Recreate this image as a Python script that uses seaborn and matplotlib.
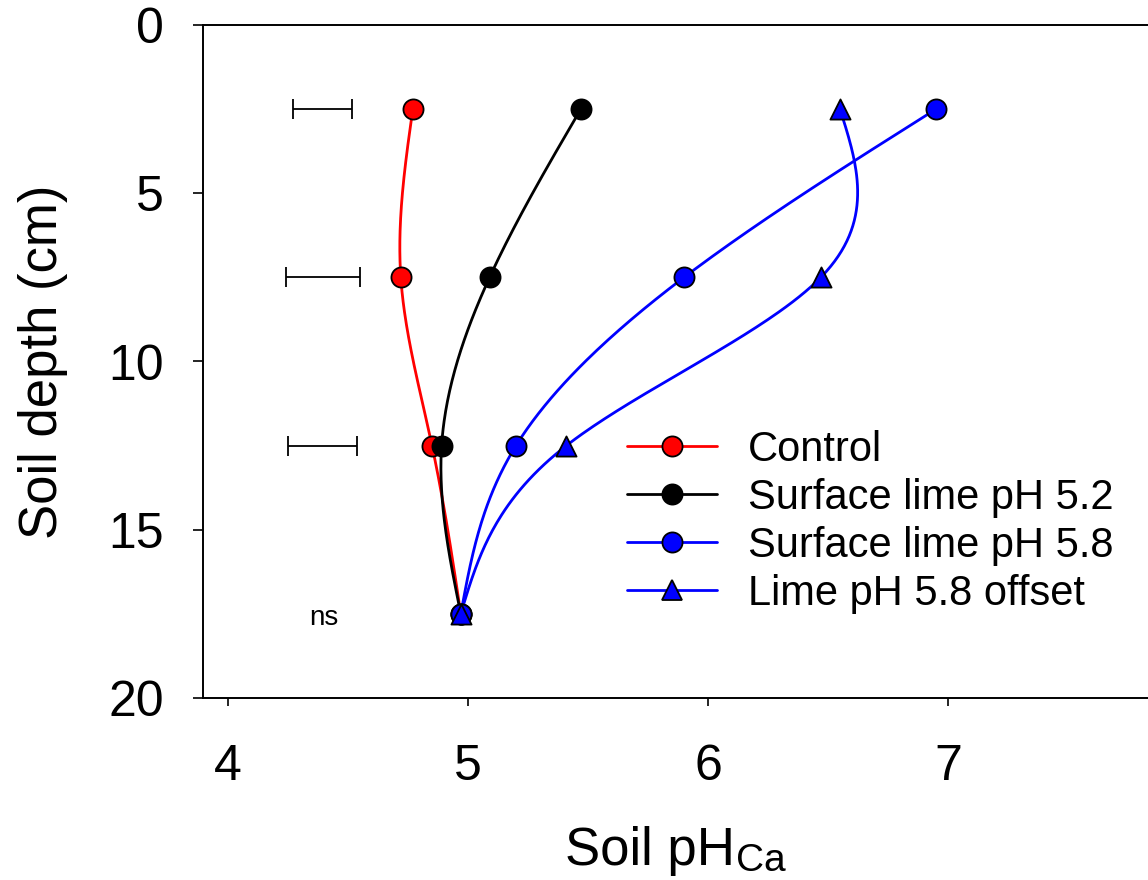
import numpy as np
import matplotlib
matplotlib.use("Agg")
import matplotlib.pyplot as plt
import seaborn as sns
from matplotlib.lines import Line2D

# ---- data ----
depth = [2.5, 7.5, 12.5, 17.5]
ph_control = [4.77, 4.72, 4.85, 4.97]
ph_lime52 = [5.47, 5.09, 4.89, 4.97]
ph_lime58 = [6.95, 5.90, 5.20, 4.97]
ph_offset = [6.55, 6.47, 5.41, 4.97]

# LSD bars (centre and half width) at the top three depths
lsd_depth = [2.5, 7.5, 12.5]
lsd_centre = [4.394, 4.396, 4.394]
lsd_half = [0.123, 0.154, 0.144]

labels = ["Control", "Surface lime pH 5.2", "Surface lime pH 5.8", "Lime pH 5.8 offset"]
colors = ["#ff0000", "#000000", "#0000ff", "#0000ff"]
markers = ["o", "o", "o", "^"]


def natural_spline(t, v, n=200):
    # natural cubic spline x(depth) like SigmaPlot's spline curve
    t = np.asarray(t, float)
    v = np.asarray(v, float)
    k = len(t)
    h = np.diff(t)
    A = np.zeros((k, k))
    b = np.zeros(k)
    A[0, 0] = A[-1, -1] = 1
    for i in range(1, k - 1):
        A[i, i - 1] = h[i - 1]
        A[i, i] = 2 * (h[i - 1] + h[i])
        A[i, i + 1] = h[i]
        b[i] = 3 * ((v[i + 1] - v[i]) / h[i] - (v[i] - v[i - 1]) / h[i - 1])
    c = np.linalg.solve(A, b)
    tt = np.linspace(t[0], t[-1], n)
    out = np.empty_like(tt)
    for j, x in enumerate(tt):
        i = min(np.searchsorted(t, x, side="right") - 1, k - 2)
        s = x - t[i]
        bi = (v[i + 1] - v[i]) / h[i] - h[i] * (2 * c[i] + c[i + 1]) / 3
        di = (c[i + 1] - c[i]) / (3 * h[i])
        out[j] = v[i] + bi * s + c[i] * s ** 2 + di * s ** 3
    return tt, out


sns.set_style("ticks")
plt.rcParams["font.family"] = ["Liberation Sans", "DejaVu Sans"]
for key in ["text.color", "axes.labelcolor", "xtick.color", "ytick.color"]:
    plt.rcParams[key] = "black"

fig = plt.figure(figsize=(11.48, 8.8), dpi=100)
ax = fig.add_axes([203 / 1148, 182 / 880, 945 / 1148, 673 / 880])

series = [ph_control, ph_lime52, ph_lime58, ph_offset]
for vals, col in zip(series, colors):
    yy, xx = natural_spline(depth, vals)
    sns.lineplot(x=xx, y=yy, sort=False, estimator=None, color=col, lw=2.0, ax=ax, zorder=2)
for vals, col, mk in zip(series, colors, markers):
    sns.scatterplot(x=vals, y=depth, marker=mk, s=210, color=col, edgecolor="black",
                    linewidth=1.3, ax=ax, zorder=3, clip_on=False)

ax.errorbar(lsd_centre, lsd_depth, xerr=lsd_half, fmt="none", ecolor="black",
            elinewidth=1.3, capsize=7, capthick=1.3)
ax.text(4.4, 17.83, "ns", fontsize=20, ha="center", va="baseline")

ax.set_xlim(4 - 25 / 240, 4 + 920 / 240)
ax.set_ylim(20, 0)
ax.set_xticks([4, 5, 6, 7])
ax.set_yticks([0, 5, 10, 15, 20])

for side in ["left", "top", "bottom"]:
    ax.spines[side].set_linewidth(1.4)
    ax.spines[side].set_color("black")
ax.spines["right"].set_visible(False)

ax.tick_params(axis="x", direction="out", length=6, width=1.2, pad=27, labelsize=36)
ax.tick_params(axis="y", direction="out", length=7, width=1.2, pad=21, labelsize=36)

ax.set_ylabel("Soil depth (cm)", fontsize=38)
ax.yaxis.set_label_coords(-0.143, 0.5)

# x label with a large subscript, built from two texts
base_y = 1 - 865 / 880
main = fig.text(565 / 1148, base_y, "Soil pH", fontsize=38, ha="left", va="baseline")
fig.canvas.draw()
ext = main.get_window_extent()
fig.text(ext.x1 / 1148 + 1 / 1148, base_y - 6 / 880, "Ca", fontsize=28, ha="left", va="baseline")

handles = [Line2D([], [], color=c, lw=2.0, marker=m, markersize=14.5,
                  markerfacecolor=c, markeredgecolor="black", markeredgewidth=1.3)
           for c, m in zip(colors, markers)]
ax.legend(handles, labels, loc="upper left", bbox_to_anchor=(627 / 1148, 1 - 430 / 880),
          bbox_transform=fig.transFigure, frameon=False, fontsize=30, borderpad=0,
          borderaxespad=0, handlelength=2.16, handletextpad=0.74, labelspacing=0.19)

fig.savefig("out.png", dpi=100)
